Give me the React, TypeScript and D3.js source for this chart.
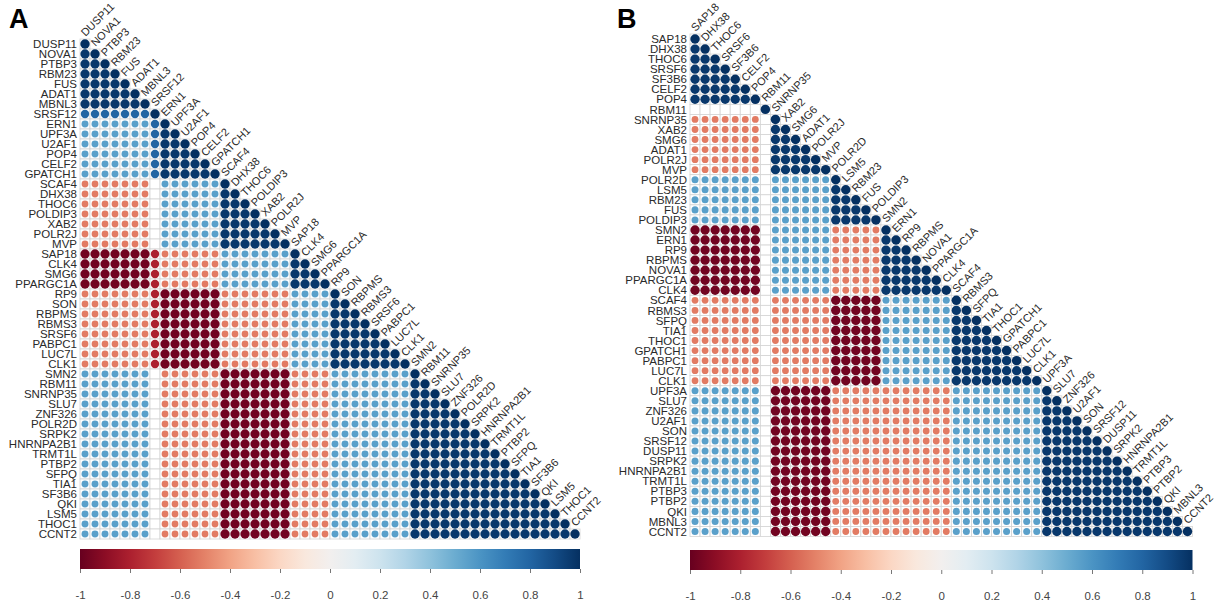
import * as React from "react";
import * as d3 from "d3";
import { select, axisBottom } from "d3";

// gene order (rows = columns) for each panel
const genesA = [
  "DUSP11", "NOVA1", "PTBP3", "RBM23", "FUS", "ADAT1", "MBNL3",
  "SRSF12",
  "ERN1", "UPF3A", "U2AF1", "POP4", "CELF2", "GPATCH1",
  "SCAF4", "DHX38", "THOC6", "POLDIP3", "XAB2", "POLR2J", "MVP",
  "SAP18", "CLK4", "SMG6", "PPARGC1A",
  "RP9", "SON", "RBPMS", "RBMS3", "SRSF6", "PABPC1", "LUC7L", "CLK1",
  "SMN2", "RBM11", "SNRNP35", "SLU7", "ZNF326", "POLR2D", "SRPK2", "HNRNPA2B1",
  "TRMT1L", "PTBP2", "SFPQ", "TIA1", "SF3B6", "QKI", "LSM5", "THOC1", "CCNT2"
];

const genesB = [
  "SAP18", "DHX38", "THOC6", "SRSF6", "SF3B6", "CELF2", "POP4",
  "RBM11",
  "SNRNP35", "XAB2", "SMG6", "ADAT1", "POLR2J", "MVP",
  "POLR2D", "LSM5", "RBM23", "FUS", "POLDIP3",
  "SMN2", "ERN1", "RP9", "RBPMS", "NOVA1", "PPARGC1A", "CLK4",
  "SCAF4", "RBMS3", "SFPQ", "TIA1", "THOC1", "GPATCH1", "PABPC1", "LUC7L", "CLK1",
  "UPF3A", "SLU7", "ZNF326", "U2AF1", "SON", "SRSF12", "DUSP11", "SRPK2",
  "HNRNPA2B1", "TRMT1L", "PTBP3", "PTBP2", "QKI", "MBNL3", "CCNT2"
];

// cluster sizes along the gene order
const groupsA = [7, 1, 6, 7, 4, 8, 17];
const groupsB = [7, 1, 6, 5, 7, 9, 15];

// correlation between clusters (lower triangle)
const blockA = [
  [0.97],
  [0.8, 1],
  [0.55, 0.8, 0.97],
  [-0.52, 0, 0.55, 0.97],
  [-0.97, -0.8, -0.52, 0.55, 0.97],
  [-0.52, -0.8, -0.97, -0.52, 0.55, 0.97],
  [0.55, 0, -0.52, -0.97, -0.52, 0.55, 0.97]
];

const blockB = [
  [0.97],
  [0, 1],
  [-0.52, 0, 0.97],
  [0.55, 0, 0.55, 0.97],
  [-0.97, 0, 0.55, -0.52, 0.97],
  [-0.52, 0, -0.52, -0.97, 0.55, 0.97],
  [0.55, 0, -0.97, -0.52, -0.52, 0.55, 0.97]
];

const colorTicks = [-1, -0.8, -0.6, -0.4, -0.2, 0, 0.2, 0.4, 0.6, 0.8, 1];
const colorTickLabels = ["-1", "-0.8", "-0.6", "-0.4", "-0.2", "0", "0.2", "0.4", "0.6", "0.8", "1"];

const FONT = "'Liberation Sans', Arial, Helvetica, sans-serif";

interface PanelProps {
  id: string;
  letter: string;
  genes: string[];
  groups: number[];
  block: number[][];
  left: number;
  top: number;
  cell: number;
  letterX: number;
  barY: number;
}

function CorrPanel(props: PanelProps) {
  const { id, letter, genes, groups, block, left, top, cell, letterX, barY } = props;
  const n = genes.length;
  const size = n * cell;

  const x = d3.scaleBand().domain(genes).range([left, left + size]);
  const y = d3.scaleBand().domain(genes).range([top, top + size]);
  const color = d3.scaleSequential(d3.interpolateRdBu).domain([-1, 1]);
  const r = d3.scaleSqrt().domain([0, 1]).range([0, cell * 0.47]);

  // which cluster every gene belongs to
  const groupOf: number[] = [];
  groups.forEach((g, gi) => {
    for (let k = 0; k < g; k++) groupOf.push(gi);
  });

  const cells: { row: string; col: string; v: number }[] = [];
  genes.forEach((row, i) => {
    genes.forEach((col, j) => {
      if (j > i) return;
      const v = i === j ? 1 : block[groupOf[i]][groupOf[j]];
      cells.push({ row, col, v });
    });
  });

  const bar = d3.scaleLinear().domain([-1, 1]).range([left, left + size]);
  const stops = d3.range(0, 1.0001, 0.05);

  return (
    <g className={"panel panel--" + id}>
      <text x={letterX} y={28} fontSize={27} fontWeight="bold" fontFamily={FONT} fill="#000">
        {letter}
      </text>

      <g className="grid">
        {cells.map(c => (
          <rect
            key={c.row + "-" + c.col}
            x={x(c.col)}
            y={y(c.row)}
            width={cell}
            height={cell}
            fill="#fff"
            stroke="#d4d4d4"
            strokeWidth={0.8}
          />
        ))}
      </g>

      <g className="circles">
        {cells
          .filter(c => c.v !== 0)
          .map(c => (
            <circle
              key={c.row + "-" + c.col}
              cx={(x(c.col) as number) + cell / 2}
              cy={(y(c.row) as number) + cell / 2}
              r={r(Math.abs(c.v))}
              fill={color(c.v)}
            />
          ))}
      </g>

      <g className="row-labels" fontFamily={FONT} fontSize={11.5} fill="#2a2a2a">
        {genes.map(g => (
          <text
            key={g}
            x={left - 3}
            y={(y(g) as number) + cell / 2}
            dy="0.36em"
            textAnchor="end"
          >
            {g}
          </text>
        ))}
      </g>

      <g className="col-labels" fontFamily={FONT} fontSize={11} fill="#2a2a2a">
        {genes.map(g => (
          <text
            key={g}
            transform={`translate(${(x(g) as number) + cell / 2 + 0.5},${(y(g) as number) - 2}) rotate(-45)`}
          >
            {g}
          </text>
        ))}
      </g>

      <defs>
        <linearGradient id={"grad-" + id} x1="0" x2="1" y1="0" y2="0">
          {stops.map(t => (
            <stop key={t} offset={t} stopColor={d3.interpolateRdBu(t)} />
          ))}
        </linearGradient>
      </defs>
      <rect
        x={left}
        y={barY}
        width={size}
        height={20}
        fill={`url(#grad-${id})`}
      />
      <g
        className="colorbar-axis"
        transform={`translate(0,${barY + 20})`}
        ref={node => {
          if (!node) return;
          const g = select(node);
          g.call(
            axisBottom(bar)
              .tickValues(colorTicks)
              .tickSize(4)
              .tickPadding(18)
              .tickFormat((d, i) => colorTickLabels[i])
          );
          g.select(".domain").remove();
          g.selectAll(".tick line").attr("stroke", "#777");
          g.selectAll(".tick text")
            .attr("font-family", FONT)
            .attr("font-size", 11.5)
            .attr("fill", "#444");
        }}
      />
    </g>
  );
}

export default function App() {
  return (
    <svg
      width={1220}
      height={608}
      style={{ position: "absolute", left: 0, top: 0, background: "#fff" }}
    >
      <rect width={1220} height={608} fill="#fff" />
      <CorrPanel
        id="a"
        letter="A"
        genes={genesA}
        groups={groupsA}
        block={blockA}
        left={80}
        top={39}
        cell={10}
        letterX={9}
        barY={549}
      />
      <CorrPanel
        id="b"
        letter="B"
        genes={genesB}
        groups={groupsB}
        block={blockB}
        left={690}
        top={34}
        cell={10.05}
        letterX={617}
        barY={550}
      />
    </svg>
  );
}
